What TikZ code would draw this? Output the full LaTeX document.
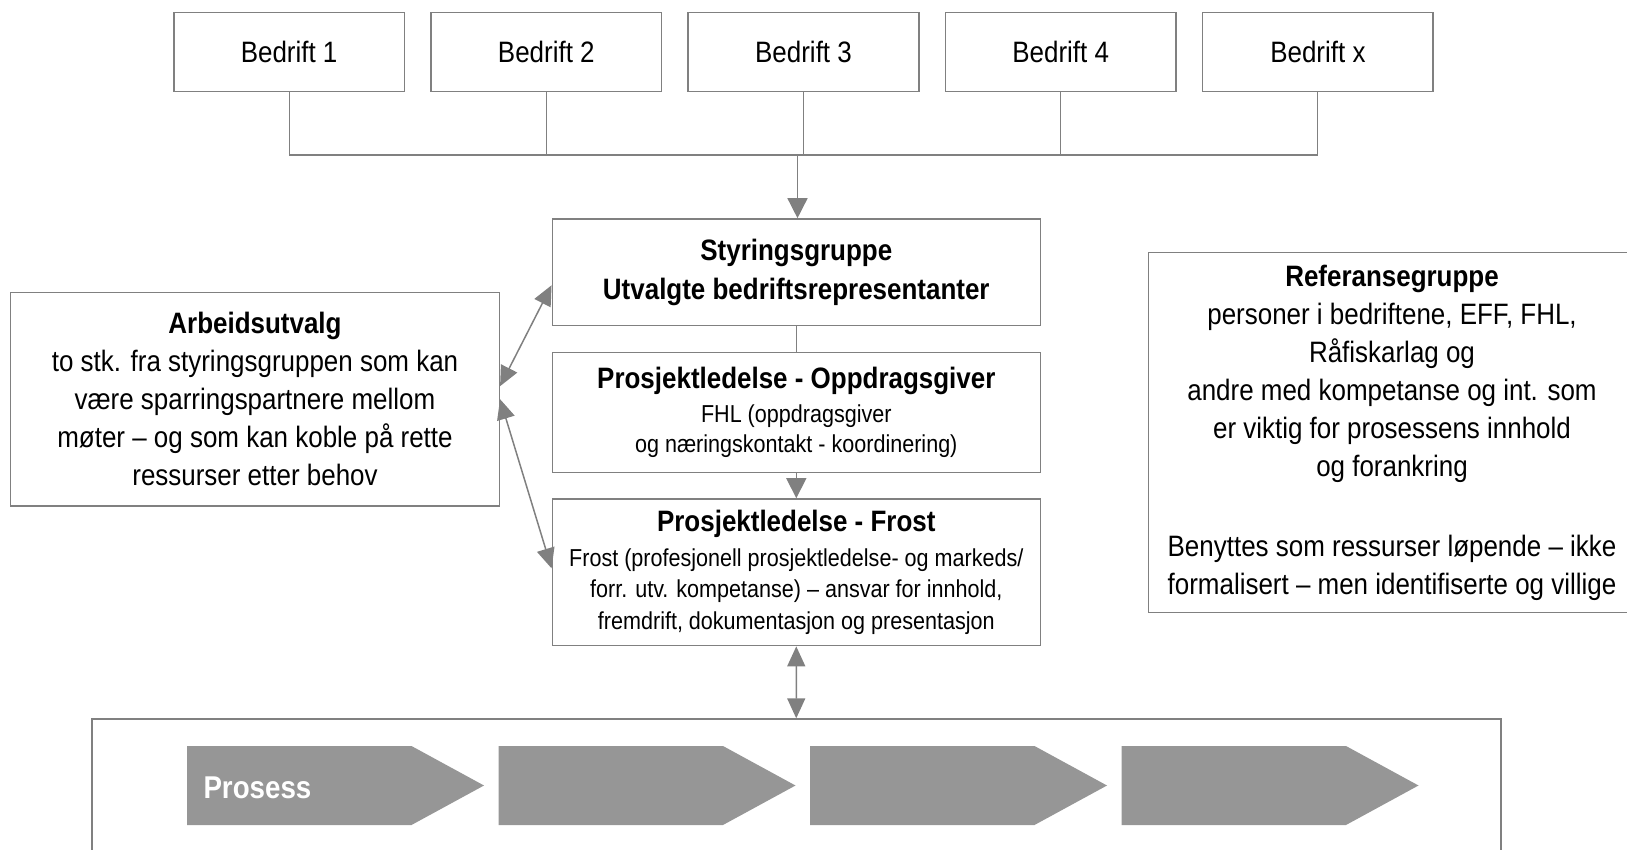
\documentclass[tikz,border=0pt]{standalone}
\usepackage{fontspec}
\setmainfont{Liberation Sans}[FakeStretch=0.88]
\usetikzlibrary{arrows.meta,calc,positioning}
\definecolor{linegray}{RGB}{128,128,128}
\definecolor{chevgray}{RGB}{150,150,150}
\newcommand{\mainfnt}{\fontsize{29.5}{38}\selectfont}
\newcommand{\smallfnt}{\fontsize{24.5}{30}\selectfont}
\tikzset{
	orgbox/.style={draw=linegray, line width=1.5pt, fill=white, align=center, inner sep=0pt, font=\mainfnt},
	link/.style={draw=linegray, line width=1.5pt},
	onearrow/.style={-{Triangle[length=20pt,width=20pt]}},
	twoarrow/.style={{Triangle[length=20pt,width=18pt]}-{Triangle[length=20pt,width=18pt]}}
}

\begin{document}
\begin{tikzpicture}[x=1pt, y=-1pt]
	\useasboundingbox (0,0) rectangle (1627,850);

	% companies on top
	\foreach \lbl [count=\i] in {1,2,3,4,x}
		\node[orgbox, minimum width=230.6pt, minimum height=79.4pt] (b\i) at ({289.1+257.2*(\i-1)}, 52) {Bedrift \lbl};

	% steering and project management
	\node[orgbox, minimum width=488pt, minimum height=106.7pt] (styr) at (796.3, 272.3)
		{\textbf{Styringsgruppe}\\[1pt]\textbf{Utvalgte bedriftsrepresentanter}};
	\node[orgbox, minimum width=488pt, minimum height=120pt] (oppdrag) at (796.3, 412.3)
		{\textbf{Prosjektledelse - Oppdragsgiver}\\[-3.6pt]\smallfnt FHL (oppdragsgiver\\[-8pt]\smallfnt og næringskontakt - koordinering)};
	\node[orgbox, minimum width=488pt, minimum height=146.7pt] (frost) at (796.3, 572.3)
		{\textbf{Prosjektledelse - Frost}\\[-3pt]\smallfnt Frost (profesjonell prosjektledelse- og markeds/\\[-6.3pt]\smallfnt forr. utv. kompetanse) – ansvar for innhold,\\[-6.3pt]\smallfnt fremdrift, dokumentasjon og presentasjon};

	% side groups
	\node[orgbox, minimum width=488.6pt, minimum height=213.7pt] (arbeid) at (255, 399.2)
		{\textbf{Arbeidsutvalg}\\to stk. fra styringsgruppen som kan\\være sparringspartnere mellom\\møter – og som kan koble på rette\\ressurser etter behov};
	\node[orgbox, minimum width=487.4pt, minimum height=360.4pt] (referanse) at (1392, 432.5)
		{\textbf{Referansegruppe}\\personer i bedriftene, EFF, FHL,\\Råfiskarlag og\\andre med kompetanse og int. som\\er viktig for prosessens innhold\\og forankring\\[42pt]Benyttes som ressurser løpende – ikke\\formalisert – men identifiserte og villige};

	% process frame with chevrons
	\node[draw=linegray, line width=2pt, minimum width=1409pt, minimum height=150pt, inner sep=0pt] (ramme) at (796.2, 794.3) {};
	\foreach \x in {187, 498.5, 810, 1121.5}
		\fill[chevgray] (\x,746) -- ++(224.5,0) -- ++(72.5,39.5) -- ++(-72.5,39.5) -- ++(-224.5,0) -- cycle;
	\node[anchor=base west, inner sep=0pt, text=white, font=\fontsize{31.5}{36}\selectfont\bfseries] (prosess) at (203.3, 798.3) {Prosess};

	% connectors
	\coordinate (bus) at (797.5, 155);
	\foreach \i in {1,...,5}
		\draw[link, line width=1pt] (b\i.south) -- (b\i.south |- bus);
	\draw[link] (b1.south |- bus) -- (b5.south |- bus);
	\draw[link, onearrow] (bus) -- (bus |- styr.north);
	\draw[link] (styr) -- (oppdrag);
	\draw[link, onearrow] (oppdrag) -- (frost);
	\draw[link, twoarrow] (frost) -- (ramme);
	\draw[link, twoarrow] ([yshift=13pt]arbeid.east) -- ([yshift=-13pt]styr.west);
	\draw[link, twoarrow] (arbeid.east) -- ([yshift=4pt]frost.west);

\end{tikzpicture}
\end{document}
